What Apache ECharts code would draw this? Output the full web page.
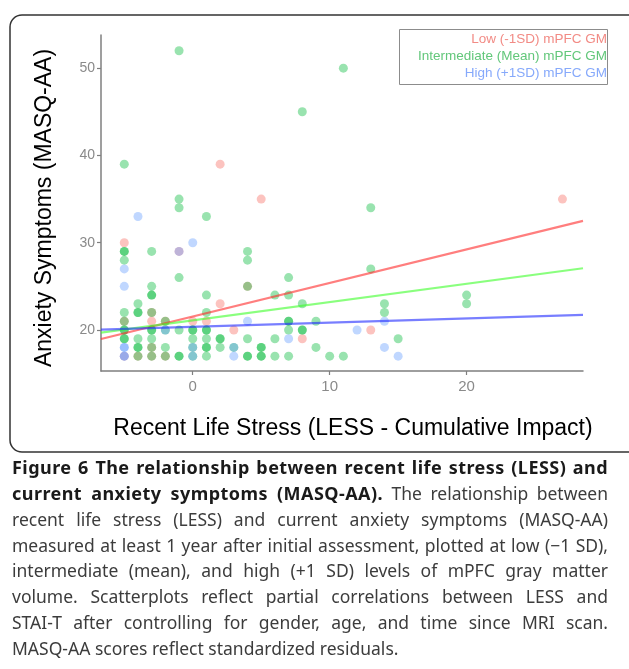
<!DOCTYPE html>
<html>
<head>
<meta charset="utf-8">
<script src="https://cdn.jsdelivr.net/npm/echarts@6/dist/echarts.min.js"></script>
<style>
html,body{margin:0;padding:0;background:#fff;}
#wrap{position:relative;width:629px;height:669px;overflow:hidden;}
#chart{position:absolute;left:0;top:0;width:629px;height:669px;}
#caption{position:absolute;left:12px;top:455px;width:596px;font-family:"Noto Sans","Open Sans",sans-serif;font-size:17.5px;color:#3c3c3c;}
#caption div{height:25.85px;line-height:25.85px;white-space:nowrap;text-align:justify;text-align-last:justify;}
#caption div.last{text-align-last:left;}
#caption b{color:#1a1a1a;font-size:18px;letter-spacing:0.45px;}
</style>
</head>
<body>
<div id="wrap">
<div id="chart"></div>
<div id="caption">
<div><b>Figure 6 The relationship between recent life stress (LESS) and</b></div>
<div><b>current anxiety symptoms (MASQ-AA).</b> The relationship between</div>
<div>recent life stress (LESS) and current anxiety symptoms (MASQ-AA)</div>
<div>measured at least 1 year after initial assessment, plotted at low (&minus;1 SD),</div>
<div>intermediate (mean), and high (+1 SD) levels of mPFC gray matter</div>
<div>volume. Scatterplots reflect partial correlations between LESS and</div>
<div>STAI-T after controlling for gender, age, and time since MRI scan.</div>
<div class="last">MASQ-AA scores reflect standardized residuals.</div>
</div>
</div>
<script>
// ---- Data ----
const xTicks = [0, 10, 20];
const yTicks = [20, 30, 40, 50];

// Low (-1SD) mPFC GM
const lowX = [2, 5, 27, -5, -1, 4, 2, -3, -5, -3, -2, 0, 1, 3, 13, 8, -4, -3, -2, -3, -5];
const lowY = [39, 35, 35, 30, 29, 25, 23, 22, 21, 21, 21, 21, 21, 20, 20, 19, 17, 18, 17, 17, 17];

// Intermediate (Mean) mPFC GM
const midX = [-1, 11, 8, -5, -1, -1, 1, 13, -5, -5, -3, 4, 4, -5, 13, -1, 7, -3, 4, -3, -3, 1, 6, 7, 20,
  -4, 8, 14, 20, -5, -4, -4, -3, 1, 14, -5, -2, 7, 7, 9, -5, -5, -3, -3, -2, -1, 0, 0, 1, 1, 7, 8, 8,
  -5, -5, -4, -3, 0, 1, 2, 2, 4, 6, 15, -4, -4, -3, -2, 0, 1, 1, 2, 3, 5, 5, 9,
  -4, -3, -2, -1, -1, 0, 1, 4, 4, 5, 5, 6, 7, 10, 11];
const midY = [52, 50, 45, 39, 35, 34, 33, 34, 29, 29, 29, 29, 28, 28, 27, 26, 26, 25, 25, 24, 24, 24, 24, 24, 24,
  23, 23, 23, 23, 22, 22, 22, 22, 22, 22, 21, 21, 21, 21, 21, 20, 20, 20, 20, 20, 20, 20, 20, 20, 20, 20, 20, 20,
  19, 19, 19, 19, 19, 19, 19, 19, 19, 19, 19, 18, 18, 18, 18, 18, 18, 18, 18, 18, 18, 18, 18,
  17, 17, 17, 17, 17, 17, 17, 17, 17, 17, 17, 17, 17, 17, 17];

// High (+1SD) mPFC GM
const highX = [-4, 0, -1, -5, -5, 4, 14, 12, 7, -2, -5, -5, 3, 14, 0, -5, -5, 3, 15, 0];
const highY = [33, 30, 29, 27, 25, 21, 21, 20, 19, 20, 18, 18, 18, 18, 18, 17, 17, 17, 17, 17];

// Fitted regression lines (end points across the x range)
const fitX = [-6.7, 28.5];
const lowFit = [18.97, 32.5];
const midFit = [19.7, 27.07];
const highFit = [20.03, 21.72];

const zip = (xs, ys) => xs.map((x, i) => [x, ys[i]]);

const chart = echarts.init(document.getElementById('chart'), null, {renderer: 'canvas'});

const axisColor = '#7f7f7f';
const labelColor = '#8a8a8a';
const sansFont = 'Liberation Sans, Arial, sans-serif';

const graphics = [
  {type: 'rect', shape: {x: 10, y: 15, width: 630, height: 437, r: 12},
   style: {fill: 'none', stroke: '#333', lineWidth: 1.5}, silent: true, z: -1},
  {type: 'rect', shape: {x: 399.5, y: 29.5, width: 208, height: 55},
   style: {fill: '#fff', stroke: '#8c8c8c', lineWidth: 1}, z: 10},
  {type: 'text', x: 607, y: 39.5, z: 11, style: {text: 'Low (-1SD) mPFC GM', fill: '#f28b85', font: '13.5px ' + sansFont, textAlign: 'right', textVerticalAlign: 'middle'}},
  {type: 'text', x: 607, y: 56.5, z: 11, style: {text: 'Intermediate (Mean) mPFC GM', fill: '#62c77a', font: '13.5px ' + sansFont, textAlign: 'right', textVerticalAlign: 'middle'}},
  {type: 'text', x: 607, y: 73.5, z: 11, style: {text: 'High (+1SD) mPFC GM', fill: '#86a9fb', font: '13.5px ' + sansFont, textAlign: 'right', textVerticalAlign: 'middle'}},
  {type: 'text', x: 45, y: 208, rotation: Math.PI / 2, style: {text: 'Anxiety Symptoms (MASQ-AA)', fill: '#000', font: '23px ' + sansFont, textAlign: 'center', textVerticalAlign: 'middle'}},
  {type: 'text', x: 353, y: 429, style: {text: 'Recent Life Stress (LESS - Cumulative Impact)', fill: '#000', font: '23px ' + sansFont, textAlign: 'center', textVerticalAlign: 'middle'}}
];

const scatterBase = {type: 'scatter', symbolSize: 9};

chart.setOption({
  animation: false,
  grid: {left: 101, right: 46, top: 35, bottom: 298, containLabel: false},
  xAxis: {
    type: 'value', min: -6.7, max: 28.5,
    axisLine: {show: true, onZero: false, lineStyle: {color: axisColor, width: 1.5}},
    axisTick: {show: true, length: 4, lineStyle: {color: axisColor, width: 1.2}, customValues: xTicks},
    axisLabel: {color: labelColor, fontSize: 15, fontFamily: sansFont, margin: 8, customValues: xTicks},
    splitLine: {show: false}
  },
  yAxis: {
    type: 'value', min: 15.3, max: 53.8,
    axisLine: {show: true, onZero: false, lineStyle: {color: axisColor, width: 1.5}},
    axisTick: {show: true, length: 4, lineStyle: {color: axisColor, width: 1.2}, customValues: yTicks},
    axisLabel: {color: labelColor, fontSize: 14, fontFamily: sansFont, margin: 6, customValues: yTicks},
    splitLine: {show: false}
  },
  graphic: graphics,
  series: [
    Object.assign({}, scatterBase, {name: 'Low', data: zip(lowX, lowY), itemStyle: {color: 'rgba(248,118,109,0.55)'}}),
    Object.assign({}, scatterBase, {name: 'Mid', data: zip(midX, midY), itemStyle: {color: 'rgba(0,186,56,0.5)'}}),
    Object.assign({}, scatterBase, {name: 'High', data: zip(highX, highY), itemStyle: {color: 'rgba(97,156,255,0.5)'}}),
    {type: 'line', data: zip(fitX, lowFit), showSymbol: false, symbol: 'none', lineStyle: {color: 'rgba(255,40,40,0.6)', width: 2.2}, z: 3},
    {type: 'line', data: zip(fitX, midFit), showSymbol: false, symbol: 'none', lineStyle: {color: 'rgba(60,255,40,0.6)', width: 2.2}, z: 3},
    {type: 'line', data: zip(fitX, highFit), showSymbol: false, symbol: 'none', lineStyle: {color: 'rgba(30,40,255,0.6)', width: 2.2}, z: 3}
  ]
});
</script>
</body>
</html>
